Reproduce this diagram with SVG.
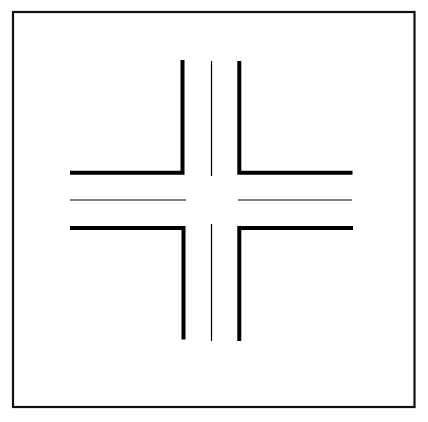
<svg xmlns="http://www.w3.org/2000/svg" width="428" height="422" viewBox="0 0 428 422">
<style>
.frame{fill:none;stroke:#111;stroke-width:2.2}
.kerb{fill:none;stroke:#000;stroke-width:4;stroke-linejoin:miter;stroke-linecap:butt}
.lane{fill:none;stroke:#000;stroke-width:1.2}
</style>
<rect width="428" height="422" fill="#fff"/>
<rect class="frame" x="13" y="12" width="401.5" height="395"/>
<g id="kerbs">
<polyline class="kerb" points="182.5,60 182.5,172.7 70,172.7"/>
<polyline class="kerb" points="239.3,61 239.3,172.7 352.5,172.7"/>
<polyline class="kerb" points="70,228 183.5,228 183.5,339.5"/>
<polyline class="kerb" points="353,228 239.3,228 239.3,341"/>
</g>
<g id="lanes">
<line class="lane" x1="211.5" y1="61" x2="211.5" y2="176"/>
<line class="lane" x1="211.5" y1="224" x2="211.5" y2="341"/>
<line class="lane" x1="70" y1="200" x2="186" y2="200"/>
<line class="lane" x1="238" y1="200" x2="352" y2="200"/>
</g>
</svg>
